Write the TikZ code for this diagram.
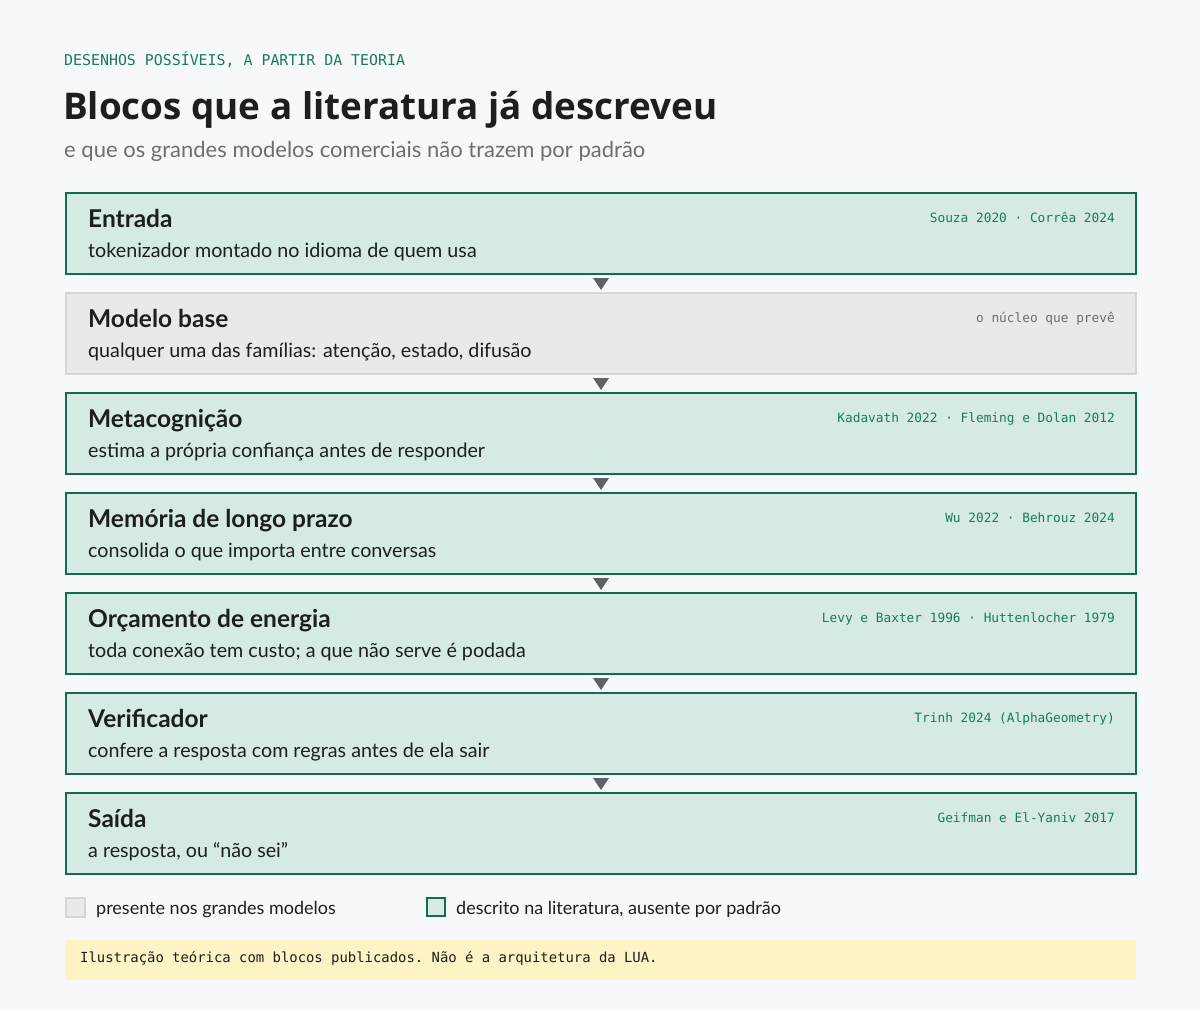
\documentclass[tikz,border=0pt]{standalone}
\usepackage{fontspec}
\setmainfont{Lato}
\setmonofont{DejaVu Sans Mono}
\newfontfamily\titlefont{Open Sans}
\usetikzlibrary{calc}
\definecolor{bg}{HTML}{F7F8FA}
\definecolor{grn}{HTML}{136B56}
\definecolor{grnfill}{HTML}{D5EAE3}
\definecolor{gryfill}{HTML}{E8E9EB}
\definecolor{gryline}{HTML}{D3D5D8}
\definecolor{ink}{HTML}{1C1E21}
\definecolor{subgray}{HTML}{6B6E72}
\definecolor{arrowc}{HTML}{5E6266}
\definecolor{monogrn}{HTML}{1A7A5E}
\definecolor{note}{HTML}{FDF3C4}
\tikzset{
  blk/.style={draw=grn, line width=2pt, fill=grnfill, minimum width=1070pt, minimum height=81pt, anchor=north west, inner sep=0pt},
  blkgray/.style={draw=gryline, line width=2pt, fill=gryfill, minimum width=1070pt, minimum height=81pt, anchor=north west, inner sep=0pt},
  ttl/.style={anchor=base west, inner sep=0pt, font=\fontsize{24.5}{28}\selectfont\bfseries, text=ink},
  dsc/.style={anchor=base west, inner sep=0pt, font=\fontsize{19.7}{23}\selectfont, text=ink},
  ref/.style={anchor=base east, inner sep=0pt, font=\fontsize{12.8}{15}\selectfont\ttfamily, text=monogrn},
  tri/.style={fill=arrowc, draw=none},
}
\begin{document}
\begin{tikzpicture}[x=1pt,y=-1pt]
\useasboundingbox (0,0) rectangle (1200,1010);
\fill[bg] (0,0) rectangle (1200,1010);
\node[anchor=base west, inner sep=0pt, font=\fontsize{14.9}{17}\selectfont\ttfamily, text=monogrn] (kick) at (64,65) {DESENHOS POSSÍVEIS, A PARTIR DA TEORIA};
\node[anchor=base west, inner sep=0pt, font=\fontsize{36.8}{42}\selectfont\titlefont\bfseries, text=ink] (title) at (63,119) {Blocos que a literatura já descreveu};
\node[anchor=base west, inner sep=0pt, font=\fontsize{22}{26}\selectfont, text=subgray] (sub) at (64,157) {e que os grandes modelos comerciais não trazem por padrão};
% blocks
\foreach \i/\t/\d/\r/\st/\rc in {
 1/Entrada/{tokenizador montado no idioma de quem usa}/{Souza 2020 · Corrêa 2024}/blk/monogrn,
 2/Modelo base/{qualquer uma das famílias: atenção, estado, difusão}/{o núcleo que prevê}/blkgray/subgray,
 3/Metacognição/{estima a própria confiança antes de responder}/{Kadavath 2022 · Fleming e Dolan 2012}/blk/monogrn,
 4/Memória de longo prazo/{consolida o que importa entre conversas}/{Wu 2022 · Behrouz 2024}/blk/monogrn,
 5/Orçamento de energia/{toda conexão tem custo; a que não serve é podada}/{Levy e Baxter 1996 · Huttenlocher 1979}/blk/monogrn,
 6/Verificador/{confere a resposta com regras antes de ela sair}/{Trinh 2024 (AlphaGeometry)}/blk/monogrn,
 7/Saída/{a resposta, ou “não sei”}/{Geifman e El-Yaniv 2017}/blk/monogrn}
{
  \pgfmathsetmacro{\yy}{192+(\i-1)*100}
  \node[\st] (b\i) at (65,\yy) {};
  \node[ttl] (t\i) at ($(b\i.north west)+(23,35)$) {\t};
  \node[dsc] (d\i) at ($(b\i.north west)+(23,65)$) {\d};
  \node[ref, text=\rc] (r\i) at ($(b\i.north east)+(-22,30)$) {\r};
}
% arrows
\foreach \i in {1,...,6}{
  \fill[tri] ($(b\i.south)+(-8,3)$) -- ($(b\i.south)+(8,3)$) -- ($(b\i.south)+(0,15)$) -- cycle;
}
% legend
\node[draw=gryline, line width=1.5pt, fill=gryfill, minimum size=19pt, inner sep=0pt, anchor=north west] (lg1) at (65,897) {};
\node[dsc, font=\fontsize{18}{21}\selectfont] (lt1) at (96,914) {presente nos grandes modelos};
\node[draw=grn, line width=2pt, fill=grnfill, minimum size=18pt, inner sep=0pt, anchor=north west] (lg2) at (426,897) {};
\node[dsc, font=\fontsize{18}{21}\selectfont] (lt2) at (456,914) {descrito na literatura, ausente por padrão};
% note
\fill[note] (65,940) rectangle (1136,980);
\node[anchor=base west, inner sep=0pt, font=\fontsize{13.9}{16}\selectfont\ttfamily, text=ink] (nt) at (80,962) {Ilustração teórica com blocos publicados. Não é a arquitetura da LUA.};
\end{tikzpicture}
\end{document}
